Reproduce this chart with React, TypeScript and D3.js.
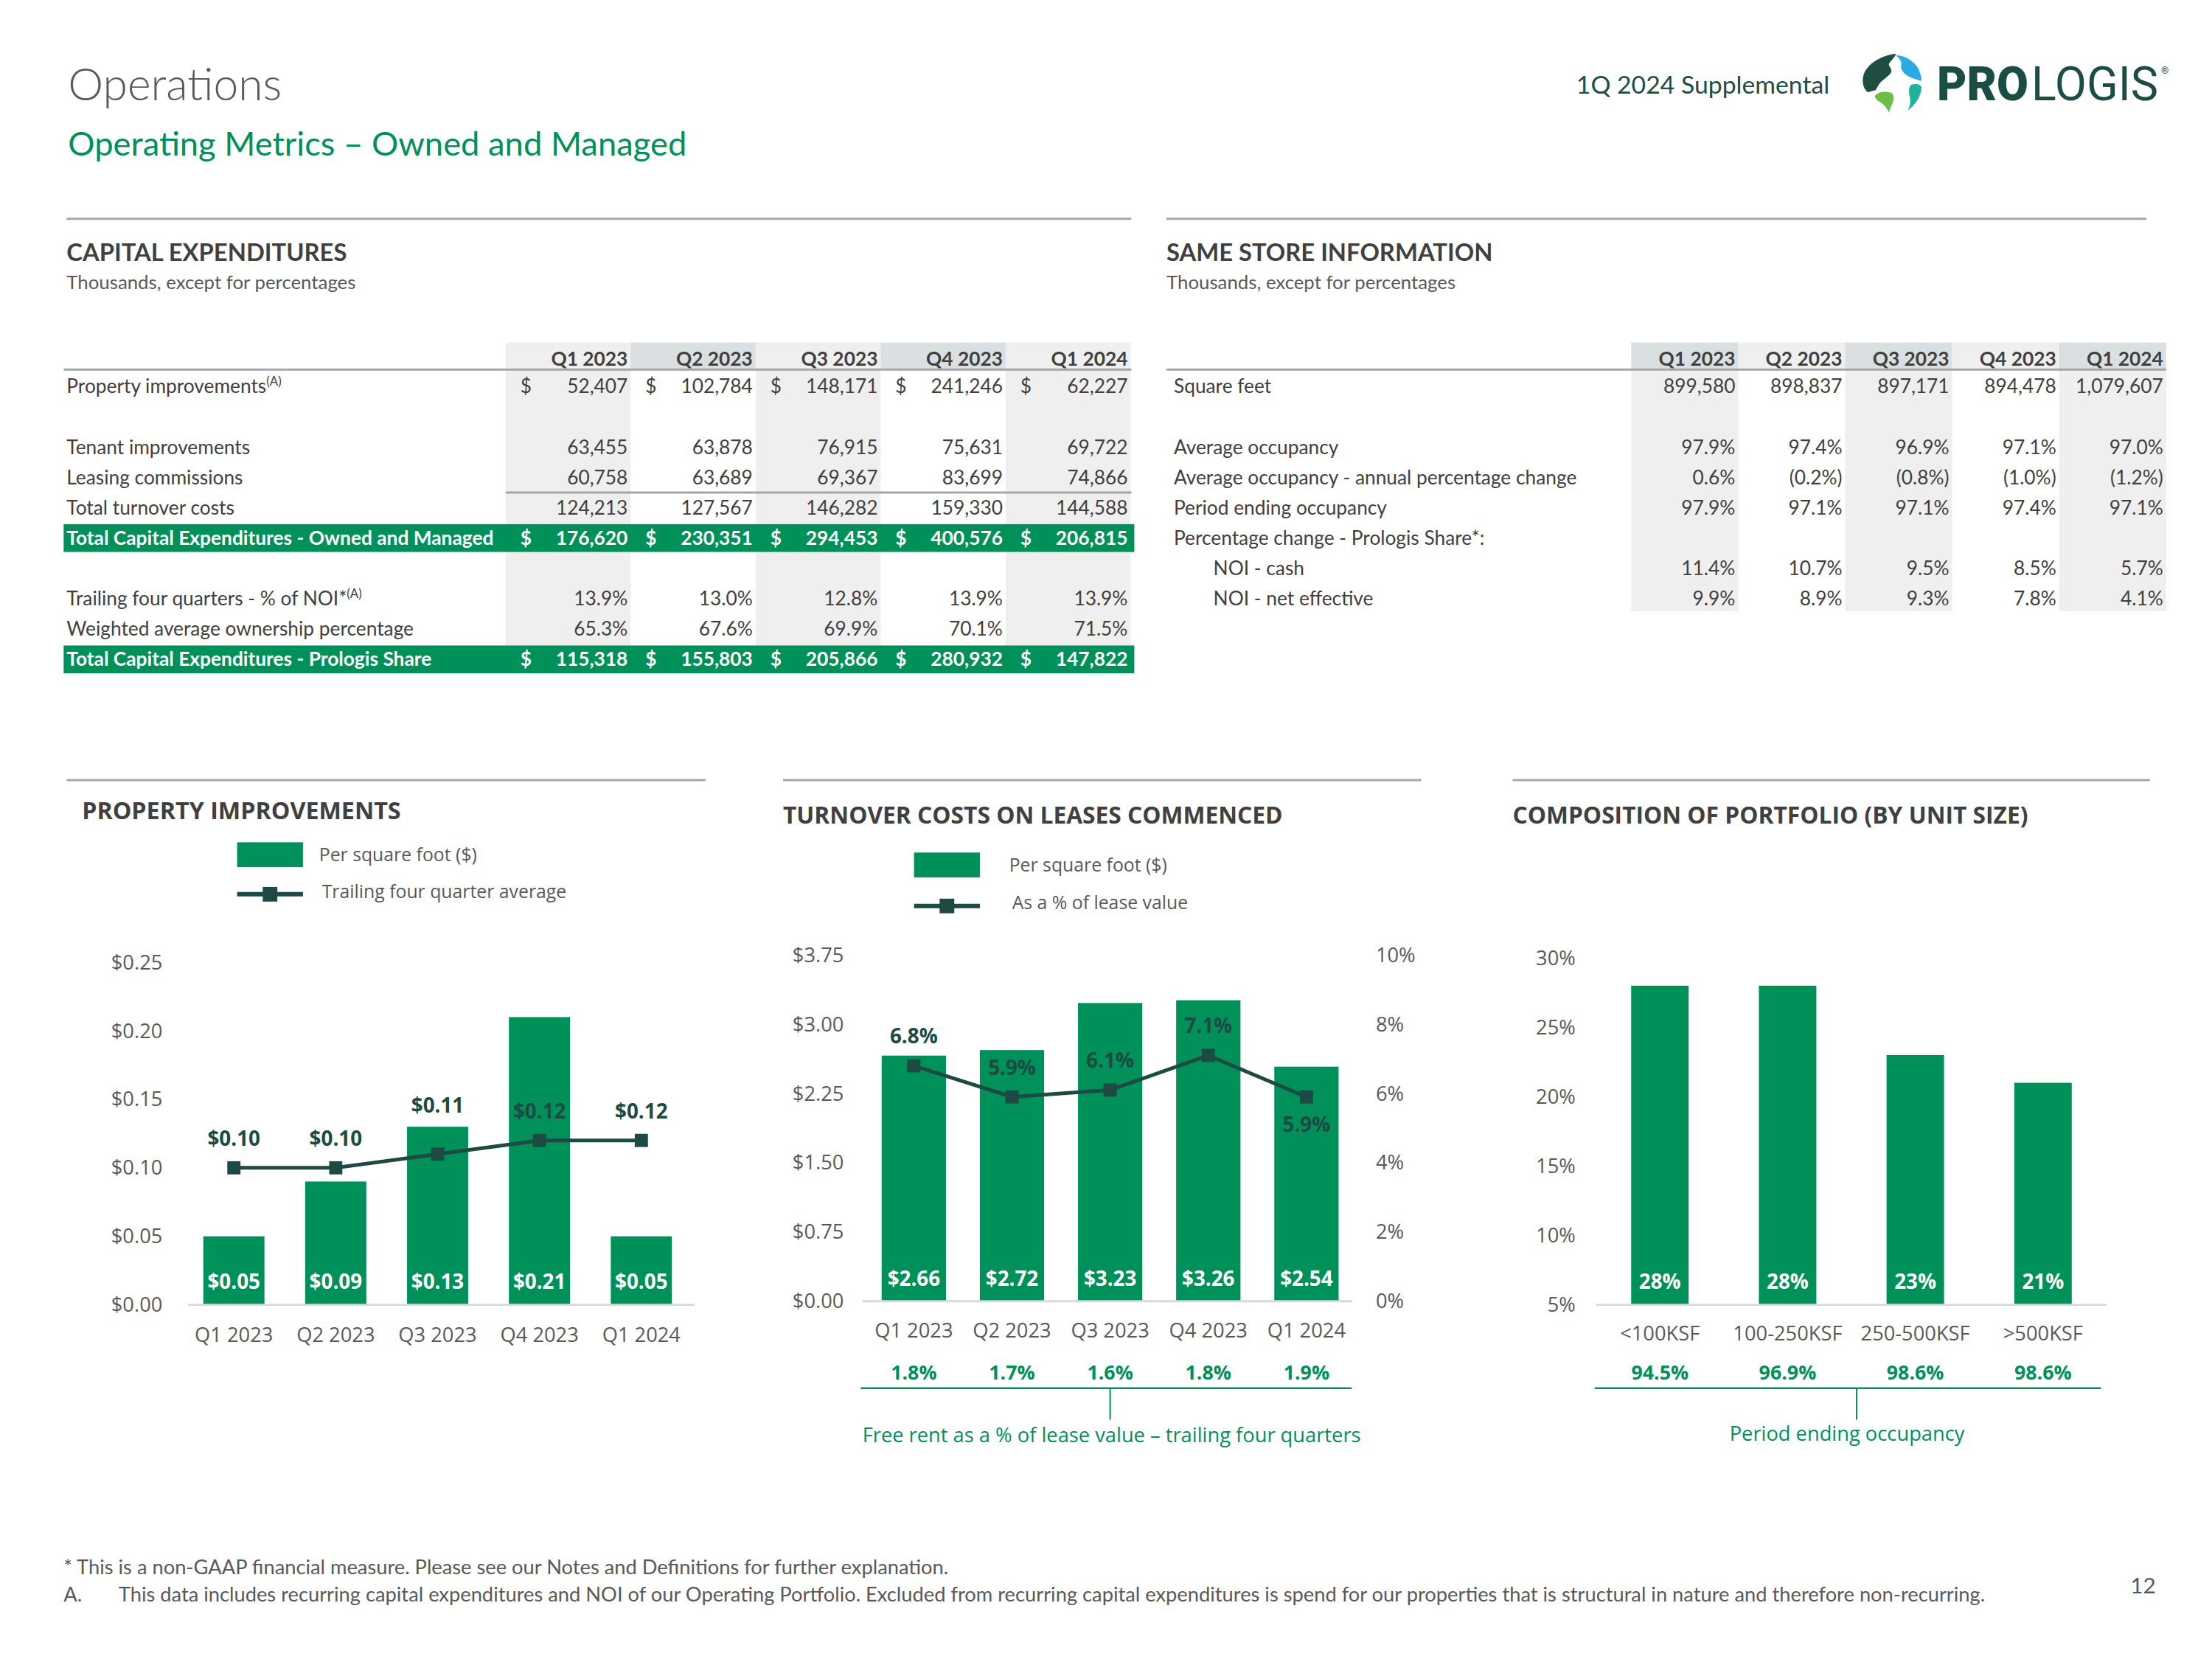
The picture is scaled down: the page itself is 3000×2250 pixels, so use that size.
import * as d3 from "d3";

// ---- data ----
const QUARTERS = ["Q1 2023", "Q2 2023", "Q3 2023", "Q4 2023", "Q1 2024"];

const propertyImprovements = [52407, 102784, 148171, 241246, 62227];
const tenantImprovements = [63455, 63878, 76915, 75631, 69722];
const leasingCommissions = [60758, 63689, 69367, 83699, 74866];
const totalTurnoverCosts = [124213, 127567, 146282, 159330, 144588];
const totalCapexOwnedManaged = [176620, 230351, 294453, 400576, 206815];
const trailingNoiPct = [13.9, 13.0, 12.8, 13.9, 13.9];
const ownershipPct = [65.3, 67.6, 69.9, 70.1, 71.5];
const totalCapexPrologisShare = [115318, 155803, 205866, 280932, 147822];

const squareFeet = [899580, 898837, 897171, 894478, 1079607];
const avgOccupancy = [97.9, 97.4, 96.9, 97.1, 97.0];
const avgOccupancyChange = [0.6, -0.2, -0.8, -1.0, -1.2];
const periodEndingOccupancy = [97.9, 97.1, 97.1, 97.4, 97.1];
const noiCash = [11.4, 10.7, 9.5, 8.5, 5.7];
const noiNetEffective = [9.9, 8.9, 9.3, 7.8, 4.1];

const piPerSqFt = [0.05, 0.09, 0.13, 0.21, 0.05];
const piTrailingAvg = [0.1, 0.1, 0.11, 0.12, 0.12];

const turnoverPerSqFt = [2.66, 2.72, 3.23, 3.26, 2.54];
const turnoverPctLease = [6.8, 5.9, 6.1, 7.1, 5.9];
const freeRentPct = [1.8, 1.7, 1.6, 1.8, 1.9];
const TURNOVER_TICKS = [0, 0.75, 1.5, 2.25, 3.0, 3.75];
const TURNOVER_PCT_TICKS = [0, 2, 4, 6, 8, 10];

const UNIT_SIZES = ["<100KSF", "100-250KSF", "250-500KSF", ">500KSF"];
const unitSizeShare = [28, 28, 23, 21];
const unitSizeOccupancy = [94.5, 96.9, 98.6, 98.6];

// ---- styles ----
const GREEN = "#00905A";
const DARK = "#1D4A42";
const GRAY = "#595959";
const INK = "#404040";
const RULE = "#A6A6A6";
const AXIS = "#D9D9D9";
const SHADE = "#EFEFEF";
const SHADE_DARK = "#DADFE1";
const CAL = "Lato, 'Open Sans', sans-serif";
const SEG = "'Open Sans', 'Noto Sans', sans-serif";

const fmtNum = d3.format(",");
const fmtPct = (v: number) => (v < 0 ? `(${Math.abs(v).toFixed(1)}%)` : `${v.toFixed(1)}%`);
const fmtMoney = d3.format("$.2f");

type Row = {
  label: string;
  sup?: string;
  values?: number[];
  kind?: "num" | "pct";
  dollar?: boolean;
  band?: boolean;
  indent?: boolean;
} | null;

const capexRows: Row[] = [
  { label: "Property improvements", sup: "(A)", values: propertyImprovements, kind: "num", dollar: true },
  null,
  { label: "Tenant improvements", values: tenantImprovements, kind: "num" },
  { label: "Leasing commissions", values: leasingCommissions, kind: "num" },
  { label: "Total turnover costs", values: totalTurnoverCosts, kind: "num" },
  { label: "Total Capital Expenditures - Owned and Managed", values: totalCapexOwnedManaged, kind: "num", dollar: true, band: true },
  null,
  { label: "Trailing four quarters - % of NOI*", sup: "(A)", values: trailingNoiPct, kind: "pct" },
  { label: "Weighted average ownership percentage", values: ownershipPct, kind: "pct" },
  { label: "Total Capital Expenditures - Prologis Share", values: totalCapexPrologisShare, kind: "num", dollar: true, band: true },
];

const sameStoreRows: Row[] = [
  { label: "Square feet", values: squareFeet, kind: "num" },
  null,
  { label: "Average occupancy", values: avgOccupancy, kind: "pct" },
  { label: "Average occupancy - annual percentage change", values: avgOccupancyChange, kind: "pct" },
  { label: "Period ending occupancy", values: periodEndingOccupancy, kind: "pct" },
  { label: "Percentage change - Prologis Share*:" },
  { label: "NOI - cash", values: noiCash, kind: "pct", indent: true },
  { label: "NOI - net effective", values: noiNetEffective, kind: "pct", indent: true },
];

const rowY = (i: number) => 528 + i * 41.45;
const HEAD_TOP = 468;
const HEAD_BOTTOM = 505;

function CapexTable() {
  const x = d3.scaleBand<string>().domain(QUARTERS).range([691, 1545]);
  const bw = x.bandwidth();
  const shadeBottom = rowY(9) - 19;
  return (
    <g fontFamily={CAL} fontSize={26.5} fill={INK}>
      <text x={91} y={345} dy="0.35em" fontSize={33} fontWeight={700}>CAPITAL EXPENDITURES</text>
      <text x={91} y={386} dy="0.35em" fontSize={26} fill={GRAY}>Thousands, except for percentages</text>
      {QUARTERS.map((q, i) => (
        <g key={q}>
          <rect x={x(q)} y={HEAD_TOP} width={bw} height={HEAD_BOTTOM - HEAD_TOP} fill={i % 2 ? SHADE_DARK : SHADE} />
          {i % 2 === 0 && <rect x={x(q)} y={HEAD_BOTTOM} width={bw} height={shadeBottom - HEAD_BOTTOM} fill={SHADE} />}
          <text x={x(q)! + bw - 4} y={490} dy="0.35em" textAnchor="end" fontWeight={700}>{q}</text>
        </g>
      ))}
      <line x1={87} x2={1546} y1={HEAD_BOTTOM} y2={HEAD_BOTTOM} stroke={RULE} strokeWidth={3} />
      <line x1={691} x2={1546} y1={rowY(3.5)} y2={rowY(3.5)} stroke={RULE} strokeWidth={3} />
      {capexRows.map((r, i) => {
        if (!r) return null;
        const cy = rowY(i);
        const color = r.band ? "#fff" : INK;
        return (
          <g key={r.label} fill={color} fontWeight={r.band ? 700 : 400}>
            {r.band && <rect x={87} y={cy - 19} width={1463} height={38} fill={GREEN} />}
            <text x={91} y={cy} dy="0.35em">
              {r.label}
              {r.sup && <tspan dy={-10} fontSize={17}>{r.sup}</tspan>}
            </text>
            {r.values!.map((v, j) => (
              <g key={j}>
                {r.dollar && <text x={x(QUARTERS[j])! + 20} y={cy} dy="0.35em">$</text>}
                <text x={x(QUARTERS[j])! + bw - 4} y={cy} dy="0.35em" textAnchor="end">
                  {r.kind === "pct" ? fmtPct(v) : fmtNum(v)}
                </text>
              </g>
            ))}
          </g>
        );
      })}
    </g>
  );
}

function SameStoreTable() {
  const x = d3.scaleBand<string>().domain(QUARTERS).range([2229, 2960]);
  const bw = x.bandwidth();
  const shadeBottom = 835;
  return (
    <g fontFamily={CAL} fontSize={26.5} fill={INK}>
      <text x={1594} y={345} dy="0.35em" fontSize={33} fontWeight={700}>SAME STORE INFORMATION</text>
      <text x={1594} y={386} dy="0.35em" fontSize={26} fill={GRAY}>Thousands, except for percentages</text>
      {QUARTERS.map((q, i) => (
        <g key={q}>
          <rect x={x(q)} y={HEAD_TOP} width={bw} height={HEAD_BOTTOM - HEAD_TOP} fill={i % 2 ? SHADE : SHADE_DARK} />
          {i % 2 === 0 && <rect x={x(q)} y={HEAD_BOTTOM} width={bw} height={shadeBottom - HEAD_BOTTOM} fill={SHADE} />}
          <text x={x(q)! + bw - 4} y={490} dy="0.35em" textAnchor="end" fontWeight={700}>{q}</text>
        </g>
      ))}
      <line x1={1594} x2={2960} y1={HEAD_BOTTOM} y2={HEAD_BOTTOM} stroke={RULE} strokeWidth={3} />
      {sameStoreRows.map((r, i) => {
        if (!r) return null;
        const cy = rowY(i);
        return (
          <g key={r.label}>
            <text x={r.indent ? 1658 : 1604} y={cy} dy="0.35em">{r.label}</text>
            {r.values?.map((v, j) => (
              <text key={j} x={x(QUARTERS[j])! + bw - 4} y={cy} dy="0.35em" textAnchor="end">
                {r.kind === "pct" ? fmtPct(v) : fmtNum(v)}
              </text>
            ))}
          </g>
        );
      })}
    </g>
  );
}

function Legend({ x, y, barLabel, lineLabel, gap, textOffset }: { x: number; y: number; barLabel: string; lineLabel: string; gap: number; textOffset: number }) {
  return (
    <g fontFamily={SEG} fontSize={25} fill={GRAY}>
      <rect x={x} y={y} width={90} height={34} fill={GREEN} />
      <text x={x + textOffset} y={y + 17} dy="0.35em">{barLabel}</text>
      <line x1={x} x2={x + 90} y1={y + gap} y2={y + gap} stroke={DARK} strokeWidth={6} />
      <rect x={x + 35} y={y + gap - 10} width={20} height={20} fill={DARK} />
      <text x={x + textOffset + 4} y={y + gap - 4} dy="0.35em">{lineLabel}</text>
    </g>
  );
}

function PropertyImprovementsChart() {
  const x = d3.scaleBand<string>().domain(QUARTERS).range([250, 946]).paddingInner(0.4).paddingOuter(0.2);
  const y = d3.scaleLinear().domain([0, 0.25]).range([1783, 1315]);
  const bw = x.bandwidth();
  const cx = (i: number) => x(QUARTERS[i])! + bw / 2;
  const line = d3.line<number>().x((_, i) => cx(i)).y((d) => y(d));
  return (
    <g fontFamily={SEG}>
      <text x={112} y={1108} dy="0.35em" fontSize={32.5} fontWeight={700} fill={INK}>PROPERTY IMPROVEMENTS</text>
      <Legend x={324} y={1151} barLabel="Per square foot ($)" lineLabel="Trailing four quarter average" gap={71} textOffset={112} />
      {y.ticks(5).map((t) => (
        <text key={t} x={222} y={y(t)} dy="0.35em" textAnchor="end" fontSize={27.5} fill={GRAY}>{fmtMoney(t)}</text>
      ))}
      {piPerSqFt.map((v, i) => (
        <rect key={i} x={x(QUARTERS[i])} y={y(v)} width={bw} height={y(0) - y(v)} fill={GREEN} />
      ))}
      <line x1={257} x2={949} y1={y(0)} y2={y(0)} stroke={AXIS} strokeWidth={3} />
      {piPerSqFt.map((v, i) => (
        <text key={i} x={cx(i)} y={y(0) - 32} dy="0.35em" textAnchor="middle" fontSize={28} fontWeight={700} fill="#fff">{fmtMoney(v)}</text>
      ))}
      <path d={line(piTrailingAvg)!} fill="none" stroke={DARK} strokeWidth={5} />
      {piTrailingAvg.map((v, i) => (
        <rect key={i} x={cx(i) - 9} y={y(v) - 9} width={18} height={18} fill={DARK} />
      ))}
      {piTrailingAvg.map((v, i) => {
        const bar = piPerSqFt[i];
        // lift the label above the bar top when the bar edge would cut through it
        const ly = bar > v && bar - v < 0.05 ? y(bar) - 29 : y(v) - 40;
        return (
          <text key={i} x={cx(i)} y={ly} dy="0.35em" textAnchor="middle" fontSize={28} fontWeight={700} fill={DARK}>{fmtMoney(v)}</text>
        );
      })}
      {QUARTERS.map((q, i) => (
        <text key={q} x={cx(i)} y={1824} dy="0.35em" textAnchor="middle" fontSize={27.5} fill={GRAY}>{q}</text>
      ))}
    </g>
  );
}

function TurnoverChart() {
  const x = d3.scaleBand<string>().domain(QUARTERS).range([1182, 1852]).paddingInner(0.345).paddingOuter(0.17);
  const y = d3.scaleLinear().domain([0, 3.75]).range([1778, 1305]);
  const y2 = d3.scaleLinear().domain([0, 10]).range([1778, 1305]);
  const bw = x.bandwidth();
  const cx = (i: number) => x(QUARTERS[i])! + bw / 2;
  const line = d3.line<number>().x((_, i) => cx(i)).y((d) => y2(d));
  const last = turnoverPctLease.length - 1;
  const bracketMid = cx(2);
  return (
    <g fontFamily={SEG}>
      <text x={1070} y={1114} dy="0.35em" fontSize={32} fontWeight={700} fill={INK}>TURNOVER COSTS ON LEASES COMMENCED</text>
      <Legend x={1249} y={1165} barLabel="Per square foot ($)" lineLabel="As a % of lease value" gap={73} textOffset={130} />
      {TURNOVER_TICKS.map((t) => (
        <text key={t} x={1153} y={y(t)} dy="0.35em" textAnchor="end" fontSize={27.5} fill={GRAY}>{fmtMoney(t)}</text>
      ))}
      {TURNOVER_PCT_TICKS.map((t) => (
        <text key={t} x={1880} y={y2(t)} dy="0.35em" fontSize={27.5} fill={GRAY}>{`${t}%`}</text>
      ))}
      {turnoverPerSqFt.map((v, i) => (
        <rect key={i} x={x(QUARTERS[i])} y={y(v)} width={bw} height={y(0) - y(v)} fill={GREEN} />
      ))}
      <line x1={1178} x2={1848} y1={y(0)} y2={y(0)} stroke={AXIS} strokeWidth={3} />
      {turnoverPerSqFt.map((v, i) => (
        <text key={i} x={cx(i)} y={y(0) - 31} dy="0.35em" textAnchor="middle" fontSize={28} fontWeight={700} fill="#fff">{fmtMoney(v)}</text>
      ))}
      <path d={line(turnoverPctLease)!} fill="none" stroke={DARK} strokeWidth={5} />
      {turnoverPctLease.map((v, i) => (
        <rect key={i} x={cx(i) - 9} y={y2(v) - 9} width={18} height={18} fill={DARK} />
      ))}
      {turnoverPctLease.map((v, i) => (
        <text key={i} x={cx(i)} y={i === last ? y2(v) + 38 : y2(v) - 40} dy="0.35em" textAnchor="middle" fontSize={28} fontWeight={700} fill={DARK}>{`${v.toFixed(1)}%`}</text>
      ))}
      {QUARTERS.map((q, i) => (
        <text key={q} x={cx(i)} y={1818} dy="0.35em" textAnchor="middle" fontSize={27.5} fill={GRAY}>{q}</text>
      ))}
      {freeRentPct.map((v, i) => (
        <text key={i} x={cx(i)} y={1876} dy="0.35em" textAnchor="middle" fontSize={27} fontWeight={700} fill={GREEN}>{`${v.toFixed(1)}%`}</text>
      ))}
      <line x1={1176} x2={1847} y1={1897} y2={1897} stroke={GREEN} strokeWidth={2.5} />
      <line x1={bracketMid} x2={bracketMid} y1={1897} y2={1940} stroke={GREEN} strokeWidth={2} />
      <text x={1519} y={1961} dy="0.35em" textAnchor="middle" fontSize={27.5} fill={GREEN}>Free rent as a % of lease value – trailing four quarters</text>
    </g>
  );
}

function CompositionChart() {
  const x = d3.scaleBand<string>().domain(UNIT_SIZES).range([2181, 2879]).paddingInner(0.55).paddingOuter(0.275);
  const y = d3.scaleLinear().domain([5, 30]).range([1783, 1309]);
  const bw = x.bandwidth();
  const cx = (i: number) => x(UNIT_SIZES[i])! + bw / 2;
  return (
    <g fontFamily={SEG}>
      <text x={2067} y={1114} dy="0.35em" fontSize={32} fontWeight={700} fill={INK}>COMPOSITION OF PORTFOLIO (BY UNIT SIZE)</text>
      {y.ticks(5).map((t) => (
        <text key={t} x={2153} y={y(t)} dy="0.35em" textAnchor="end" fontSize={27.5} fill={GRAY}>{`${t}%`}</text>
      ))}
      {unitSizeShare.map((v, i) => (
        <rect key={i} x={x(UNIT_SIZES[i])} y={y(v)} width={bw} height={y(5) - y(v)} fill={GREEN} />
      ))}
      <line x1={2181} x2={2879} y1={y(5)} y2={y(5)} stroke={AXIS} strokeWidth={3} />
      {unitSizeShare.map((v, i) => (
        <text key={i} x={cx(i)} y={y(5) - 32} dy="0.35em" textAnchor="middle" fontSize={28} fontWeight={700} fill="#fff">{`${v}%`}</text>
      ))}
      {UNIT_SIZES.map((s, i) => (
        <text key={s} x={cx(i)} y={1822} dy="0.35em" textAnchor="middle" fontSize={27.5} fill={GRAY}>{s}</text>
      ))}
      {unitSizeOccupancy.map((v, i) => (
        <text key={i} x={cx(i)} y={1876} dy="0.35em" textAnchor="middle" fontSize={27} fontWeight={700} fill={GREEN}>{`${v.toFixed(1)}%`}</text>
      ))}
      <line x1={2179} x2={2871} y1={1897} y2={1897} stroke={GREEN} strokeWidth={2.5} />
      <line x1={2537} x2={2537} y1={1897} y2={1940} stroke={GREEN} strokeWidth={2} />
      <text x={2524} y={1959} dy="0.35em" textAnchor="middle" fontSize={27.5} fill={GREEN}>Period ending occupancy</text>
    </g>
  );
}

function Logo() {
  return (
    <g>
      <g transform="translate(2526,73) scale(0.8)">
        <path d="M57,0 C40,1 10,12 2,35 C-2,48 2,60 9,65 C14,64 18,62 22,62 C26,56 28,50 32,47 C40,40 50,34 49,28 C48,22 42,20 46,15 C50,10 55,5 57,0 Z" fill="#1E4D43" />
        <path d="M57,3 C72,2 90,14 96,28 C99,35 100,41 100,46 C92,44 84,41 78,38 C72,35 68,31 66,26 C64,20 68,16 64,11 C62,7 59,5 57,3 Z" fill="#2AACE2" />
        <path d="M84,52 C92,50 100,52 100,58 C99,72 90,86 77,96 C81,88 82,80 80,72 C78,64 78,55 84,52 Z" fill="#1FB39F" />
        <path d="M22,70 C28,64 40,63 48,66 C53,68 54,74 52,80 C50,87 46,93 45,100 C42,92 36,86 30,82 C24,78 19,74 22,70 Z" fill="#6CBE45" />
      </g>
      <text x={2627} y={136} fontFamily="Roboto, sans-serif" fontSize={64} fontWeight={900} fill="#1B4D45" textLength={124} lengthAdjust="spacingAndGlyphs">PRO</text>
      <text x={2755} y={136} fontFamily="Roboto, sans-serif" fontSize={64} fontWeight={400} fill="#1B4D45" textLength={172} lengthAdjust="spacingAndGlyphs">LOGIS</text>
      <text x={2931} y={100} fontFamily="Roboto, sans-serif" fontSize={13} fill="#1B4D45">®</text>
    </g>
  );
}

export default function App() {
  return (
    <div style={{ position: "absolute", left: 0, top: 0 }}>
      <svg width={3000} height={2250} viewBox="0 0 3000 2250" style={{ display: "block" }}>
        <rect width={3000} height={2250} fill="#fff" />
        <Logo />
        {/* page layout was measured on a slightly larger grid; scale it into place */}
        <g transform="scale(0.9925)">
          <text x={93} y={116} dy="0.35em" fontFamily={CAL} fontWeight={300} fontSize={61} fill={GRAY}>Operations</text>
          <text x={93} y={197} dy="0.35em" fontFamily={CAL} fontSize={45.7} fill={GREEN}>Operating Metrics – Owned and Managed</text>
          <text x={2154} y={116} dy="0.35em" fontFamily={CAL} fontSize={34} fill="#214C44">1Q 2024 Supplemental</text>

          <line x1={91} x2={1546} y1={299} y2={299} stroke={RULE} strokeWidth={3} />
          <line x1={1594} x2={2933} y1={299} y2={299} stroke={RULE} strokeWidth={3} />
          <CapexTable />
          <SameStoreTable />

          <line x1={91} x2={964} y1={1066} y2={1066} stroke={RULE} strokeWidth={3} />
          <line x1={1070} x2={1942} y1={1066} y2={1066} stroke={RULE} strokeWidth={3} />
          <line x1={2067} x2={2938} y1={1066} y2={1066} stroke={RULE} strokeWidth={3} />
          <PropertyImprovementsChart />
          <TurnoverChart />
          <CompositionChart />

          <g fontFamily={CAL} fontSize={27.5} fill={GRAY}>
            <text x={87} y={2142} dy="0.35em">* This is a non-GAAP financial measure. Please see our Notes and Definitions for further explanation.</text>
            <text x={87} y={2179} dy="0.35em">A.</text>
            <text x={162} y={2179} dy="0.35em">This data includes recurring capital expenditures and NOI of our Operating Portfolio. Excluded from recurring capital expenditures is spend for our properties that is structural in nature and therefore non-recurring.</text>
            <text x={2946} y={2167} dy="0.35em" textAnchor="end" fontSize={30}>12</text>
          </g>
        </g>
      </svg>
    </div>
  );
}
